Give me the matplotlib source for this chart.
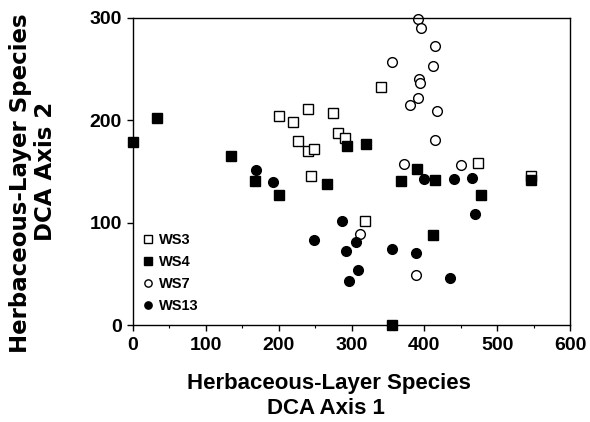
import matplotlib
matplotlib.use("Agg")
import matplotlib.pyplot as plt
from matplotlib.ticker import MultipleLocator

plt.rcParams['font.family'] = ['Liberation Sans', 'DejaVu Sans']
plt.rcParams['font.weight'] = 'bold'

# DCA scores
ws3_x = [201, 219, 240, 274, 227, 240, 248, 281, 291, 244, 340, 474, 319, 546]
ws3_y = [204, 198, 211, 207, 180, 170, 172, 188, 183, 146, 233, 158, 102, 146]

ws4_x = [0, 33, 135, 294, 168, 200, 267, 320, 390, 368, 415, 478, 412, 356, 547]
ws4_y = [179, 202, 165, 175, 141, 127, 138, 177, 152, 141, 142, 127, 88, 0, 142]

ws7_x = [391, 395, 415, 355, 412, 393, 394, 391, 380, 418, 415, 372, 451, 311, 389]
ws7_y = [299, 290, 273, 257, 253, 240, 236, 222, 215, 209, 181, 157, 156, 89, 49]

ws13_x = [169, 192, 287, 248, 293, 296, 306, 309, 356, 388, 435, 399, 441, 465, 469]
ws13_y = [151, 140, 102, 83, 72, 43, 81, 54, 74, 70, 46, 143, 143, 144, 108]

W, H = 590, 422
fig = plt.figure(figsize=(W / 100, H / 100), dpi=100)
ax = fig.add_axes([133 / W, 1 - 325 / H, 437 / W, 307 / H])

ms = 7
ax.plot(ws3_x, ws3_y, 's', ms=ms, mfc='white', mec='black', mew=1, label='WS3', clip_on=False)
ax.plot(ws4_x, ws4_y, 's', ms=ms, mfc='black', mec='black', mew=1, label='WS4', clip_on=False)
ax.plot(ws7_x, ws7_y, 'o', ms=ms, mfc='white', mec='black', mew=1, label='WS7', clip_on=False)
ax.plot(ws13_x, ws13_y, 'o', ms=ms, mfc='black', mec='black', mew=1, label='WS13', clip_on=False)

ax.set_xlim(0, 600)
ax.set_ylim(0, 300)
ax.xaxis.set_major_locator(MultipleLocator(100))
ax.xaxis.set_minor_locator(MultipleLocator(50))
ax.yaxis.set_major_locator(MultipleLocator(100))
ax.tick_params(axis='both', which='major', direction='out', length=4, width=1, labelsize=14)
ax.tick_params(axis='x', which='major', pad=5)
ax.tick_params(axis='y', which='major', pad=4)
ax.tick_params(axis='x', which='minor', direction='out', length=2.5, width=0.8)
for s in ax.spines.values():
    s.set_linewidth(1)

for lab in ax.get_xticklabels() + ax.get_yticklabels():
    lab.set_fontweight('bold')

# axis titles
fig.text(329 / W, 1 - 383 / H, 'Herbaceous-Layer Species', ha='center', va='center',
         fontsize=16, fontweight='bold')
fig.text(326 / W, 1 - 409 / H, 'DCA Axis 1', ha='center', va='center',
         fontsize=16, fontweight='bold')
fig.text(21 / W, 1 - 183 / H, 'Herbaceous-Layer Species', ha='center', va='center',
         rotation=90, fontsize=16.5, fontweight='bold', family='DejaVu Sans')
fig.text(46 / W, 1 - 171 / H, 'DCA Axis 2', ha='center', va='center',
         rotation=90, fontsize=16.5, fontweight='bold', family='DejaVu Sans')

leg = ax.legend(loc='lower left', bbox_to_anchor=(0.0, 0.01), frameon=False,
                markerscale=0.75, handlelength=0.8, handletextpad=0.4, labelspacing=0.55,
                borderaxespad=0.2, prop={'weight': 'bold', 'size': 10.5})

fig.savefig('out.png', dpi=100)
